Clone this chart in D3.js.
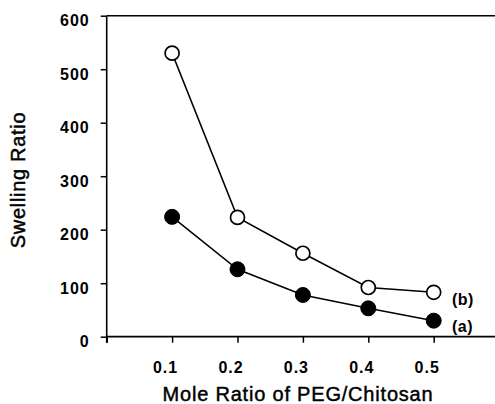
<!DOCTYPE html>
<html><head><meta charset="utf-8">
<script src="https://cdn.jsdelivr.net/npm/d3@7"></script>
<style>
html,body{margin:0;padding:0;background:#fff;}
svg{display:block;}
text{font-family:"Liberation Sans",Arial,sans-serif;fill:#000;}
</style></head>
<body>
<script>
const moleRatios = [0.1, 0.2, 0.3, 0.4, 0.5];
const seriesA = [224, 126, 78, 53, 30];   // (a) filled circles
const seriesB = [530, 223, 156, 92, 83];  // (b) open circles
const xTickValues = [0, 0.1, 0.2, 0.3, 0.4, 0.5];
const yTickValues = [0, 100, 200, 300, 400, 500, 600];
const seriesLabels = ["(a)", "(b)"];

const W = 495, H = 404;
const svg = d3.select("body").append("svg").attr("width", W).attr("height", H);

const x = d3.scaleLinear().domain([0, 0.6]).range([106.7, 499.1]);
const y = d3.scaleLinear().domain([0, 600]).range([336.7, 15.7]);
const ink = "#000";

// frame: top line and x axis line
svg.append("line").attr("x1", x(0)).attr("x2", 495).attr("y1", y(600)).attr("y2", y(600))
  .attr("stroke", ink).attr("stroke-width", 1.6);
svg.append("line").attr("x1", x(0)).attr("x2", 495).attr("y1", y(0)).attr("y2", y(0))
  .attr("stroke", ink).attr("stroke-width", 1.8);
svg.append("line").attr("x1", x(0)).attr("x2", x(0)).attr("y1", y(600)).attr("y2", y(0) + 6)
  .attr("stroke", ink).attr("stroke-width", 1.6);

// y axis
const yAxis = d3.axisLeft(y).tickValues(yTickValues).tickSize(6).tickSizeOuter(0).tickPadding(12);
const gy = svg.append("g").attr("transform", `translate(${x(0)},0)`).call(yAxis);
gy.select(".domain").remove();
gy.selectAll(".tick line").attr("stroke", ink).attr("stroke-width", 1.5);
gy.selectAll(".tick text").attr("fill", ink).attr("font-size", 16).attr("font-weight", "bold")
  .attr("letter-spacing", 1).attr("dy", "0.62em").attr("x", -17)
  .style("font-family", '"Liberation Sans",Arial,sans-serif');

// x axis
const xAxis = d3.axisBottom(x).tickValues(xTickValues).tickSize(6).tickSizeOuter(0).tickPadding(19)
  .tickFormat(d => d === 0 ? "" : d3.format(".1f")(d));
const gx = svg.append("g").attr("transform", `translate(0,${y(0)})`).call(xAxis);
gx.select(".domain").remove();
gx.selectAll(".tick line").attr("stroke", ink).attr("stroke-width", 1.5);
gx.selectAll(".tick text").attr("fill", ink).attr("font-size", 16).attr("font-weight", "bold")
  .attr("letter-spacing", 1).attr("dx", -7)
  .style("font-family", '"Liberation Sans",Arial,sans-serif');

// lines
const line = d3.line().x((d, i) => x(moleRatios[i])).y(d => y(d));
[seriesB, seriesA].forEach(s => {
  svg.append("path").datum(s).attr("d", line).attr("fill", "none")
    .attr("stroke", ink).attr("stroke-width", 1.5);
});

// markers
svg.append("g").selectAll("circle").data(seriesB).join("circle")
  .attr("cx", (d, i) => x(moleRatios[i])).attr("cy", d => y(d)).attr("r", 7)
  .attr("fill", "#fff").attr("stroke", ink).attr("stroke-width", 1.7);
svg.append("g").selectAll("circle").data(seriesA).join("circle")
  .attr("cx", (d, i) => x(moleRatios[i])).attr("cy", d => y(d)).attr("r", 7.5)
  .attr("fill", ink).attr("stroke", ink).attr("stroke-width", 1);

// series labels
svg.append("text").attr("x", 452).attr("y", 305).attr("font-size", 16).attr("font-weight", "bold")
  .attr("letter-spacing", 0.5).text(seriesLabels[1]);
svg.append("text").attr("x", 452).attr("y", 332).attr("font-size", 16).attr("font-weight", "bold")
  .attr("letter-spacing", 0.5).text(seriesLabels[0]);

// axis titles
svg.append("text").attr("x", 298).attr("y", 401).attr("text-anchor", "middle")
  .attr("font-size", 20).attr("letter-spacing", 0.8)
  .attr("stroke", ink).attr("stroke-width", 0.45).text("Mole Ratio of PEG/Chitosan");
svg.append("text").attr("transform", "translate(25,180) rotate(-90)").attr("text-anchor", "middle")
  .attr("font-size", 20).attr("letter-spacing", 0.7)
  .attr("stroke", ink).attr("stroke-width", 0.45).text("Swelling Ratio");
</script>
</body></html>
